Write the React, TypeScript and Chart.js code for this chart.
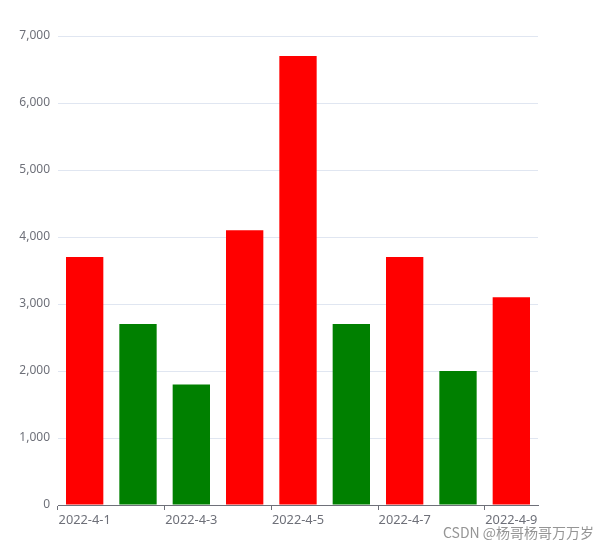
import React, { useEffect, useRef } from "react";
import { Chart, registerables } from "chart.js";

Chart.register(...registerables);

const categories = ["2022-4-1", "2022-4-2", "2022-4-3", "2022-4-4", "2022-4-5", "2022-4-6", "2022-4-7", "2022-4-8", "2022-4-9"];
const values = [3700, 2700, 1800, 4100, 6700, 2700, 3700, 2000, 3100];
const yTicks = [0, 1000, 2000, 3000, 4000, 5000, 6000, 7000];
const upColor = "#FF0000";
const downColor = "#008000";

export default function App() {
  const ref = useRef<HTMLCanvasElement | null>(null);
  useEffect(() => {
    if (!ref.current) return;
    const colors = values.map((v, i) => (i === 0 || v >= values[i - 1] ? upColor : downColor));
    const chart = new Chart(ref.current, {
      type: "bar",
      data: {
        labels: categories,
        datasets: [
          {
            data: values,
            backgroundColor: colors,
            borderWidth: 0,
            barPercentage: 0.7,
            categoryPercentage: 1,
          },
        ],
      },
      options: {
        animation: false,
        responsive: false,
        events: [],
        layout: { padding: { top: 36, right: 68, left: 0, bottom: 0 } },
        plugins: { legend: { display: false }, tooltip: { enabled: false } },
        scales: {
          x: {
            offset: true,
            grid: {
              offset: true,
              drawOnChartArea: false,
              drawTicks: true,
              tickLength: 5,
              tickColor: (ctx: any) =>
                ctx.index % 2 === 0 || ctx.index === categories.length ? "#6E7079" : "rgba(0,0,0,0)",
            },
            border: { color: "#6E7079", width: 1 },
            ticks: {
              autoSkip: false,
              maxRotation: 0,
              minRotation: 0,
              padding: 3,
              color: "#6E7079",
              font: { family: "'Noto Sans', sans-serif", size: 12.8 },
              callback: (_v: any, i: number) => (i % 2 === 0 ? categories[i] : ""),
            },
            afterFit: (s: any) => {
              s.height = 43;
            },
          },
          y: {
            min: yTicks[0],
            max: yTicks[yTicks.length - 1],
            afterBuildTicks: (s: any) => {
              s.ticks = yTicks.map((v) => ({ value: v }));
            },
            grid: { color: "#E0E6F1", drawTicks: false },
            border: { display: false },
            ticks: {
              padding: 8,
              color: "#6E7079",
              font: { family: "'Noto Sans', sans-serif", size: 12 },
              callback: (v: any) => Number(v).toLocaleString("en-US"),
            },
            afterFit: (s: any) => {
              s.width = 58;
            },
          },
        },
      },
    });
    return () => chart.destroy();
  }, []);
  return (
    <div style={{ position: "fixed", left: 0, top: 0, width: 606, height: 548, background: "#fff" }}>
      <canvas ref={ref} width={606} height={548} style={{ display: "block" }} />
      <div
        style={{
          position: "absolute",
          left: 443,
          top: 522,
          fontFamily: "'Noto Sans CJK SC', sans-serif",
          fontSize: 14,
          color: "rgba(130,130,130,0.85)",
          whiteSpace: "nowrap",
          lineHeight: "20px",
        }}
      >
        CSDN @杨哥杨哥万万岁
      </div>
    </div>
  );
}
